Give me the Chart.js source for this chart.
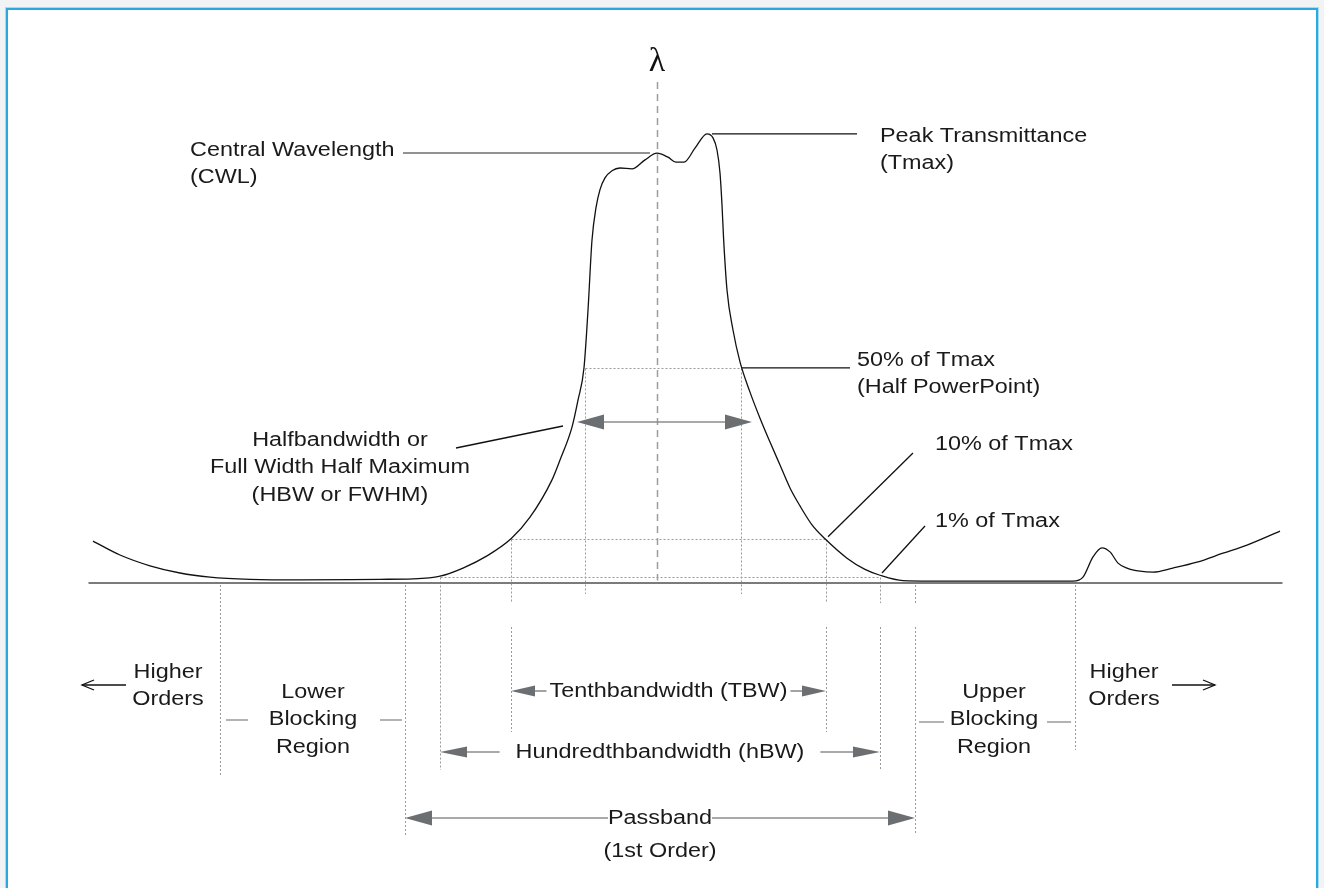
<!DOCTYPE html>
<html lang="en">
<head>
<meta charset="UTF-8">
<title>Bandpass filter terms</title>
<style>
  html, body { margin: 0; padding: 0; background: #f2f3f5; overflow: hidden; }
  .frame {
    position: absolute; left: 6px; top: 8px;
    width: 1312px; height: 900px; box-sizing: border-box;
    border: 2px solid #2aa8e0; background: #fff;
    box-shadow: 0 0 0 1px #a9dbf2;
  }
  canvas { position: absolute; left: 0; top: 0; }
</style>
</head>
<body>
<div class="frame"></div>
<canvas id="filterChart" width="1324" height="888"></canvas>

<script src="https://cdn.jsdelivr.net/npm/chart.js@4.4.1/dist/chart.umd.min.js"></script>
<script>
// transmission curve (x = wavelength position, y = % transmittance)
const wavelength = [93,120,150,180,210,250,300,380,413,440,463,487,511,530,552,560,572,578,584,588,592,596,600,605,612,620,632,645,657,668,676,684,695,707,713,717,720,722,723.5,727,733,740,750,760,770,780,790,800,812,825,847,865,880,903,930,1000,1073,1083,1093,1102,1110,1118,1127,1140,1153,1173,1197,1223,1247,1280];
const transmittance = [9.1,6.0,3.6,2.0,1.1,0.6,0.45,0.6,0.7,1.3,3.1,5.8,9.6,14.4,22.7,27.1,34.4,40.4,47.6,60.4,76,83.2,87.2,89.8,91.4,92,91.8,93.8,95.3,94.4,93.3,93.3,96.4,99.6,98.7,96,90.9,83.8,76.7,64.9,56,48.9,42.2,36.4,31.1,26,20.9,16.9,12.7,9.6,5.3,2.8,1.5,0.3,0.2,0.2,0.2,1.1,5.6,7.6,6.7,4.2,3.1,2.4,2.2,3.1,4.4,6.4,8.2,11.3];

// levels where the widths are taken
const levelHalf = 47.6;
const levelTenth = 9.6;
const levelHundredth = 1.1;

// band edges on the wavelength axis
const cwl = 657;
const fwhmEdges = [585, 741];
const tbwEdges = [511, 826];
const hbwEdges = [440, 880];
const passEdges = [405, 915];
const blockEdges = [220, 1075];
const axisRange = [88, 1282];

const points = wavelength.map((w, i) => ({ x: w, y: transmittance[i] }));

const FONT = '20px "Liberation Sans", Arial, sans-serif';
const STRETCH = 1.17;

function text(ctx, s, x, y, align) {
  ctx.save();
  ctx.translate(x, y);
  ctx.scale(STRETCH, 1);
  ctx.textAlign = align || 'left';
  ctx.textBaseline = 'middle';
  ctx.fillText(s, 0, 0);
  ctx.restore();
}
function textWidth(ctx, s) { return ctx.measureText(s).width * STRETCH; }

function line(ctx, x1, y1, x2, y2) {
  ctx.beginPath(); ctx.moveTo(x1, y1); ctx.lineTo(x2, y2); ctx.stroke();
}

function head(ctx, tip, y, dir, len, half) {
  ctx.beginPath();
  ctx.moveTo(tip, y);
  ctx.lineTo(tip + dir * len, y - half);
  ctx.lineTo(tip + dir * len, y + half);
  ctx.closePath();
  ctx.fill();
}

// double arrow between two tips, optionally with a label in the middle
function dimension(ctx, x1, x2, y, label, gap, len, half) {
  ctx.strokeStyle = '#8c8c8c'; ctx.lineWidth = 1.6; ctx.setLineDash([]);
  const mid = (x1 + x2) / 2;
  if (label) {
    const w = textWidth(ctx, label);
    line(ctx, x1 + len, y, mid - w / 2 - gap, y);
    line(ctx, mid + w / 2 + gap, y, x2 - len, y);
    ctx.fillStyle = '#1a1a1a';
    text(ctx, label, mid, y, 'center');
  } else {
    line(ctx, x1 + len, y, x2 - len, y);
  }
  ctx.fillStyle = '#6c6f71';
  head(ctx, x1, y, 1, len, half);
  head(ctx, x2, y, -1, len, half);
}

const guidePlugin = {
  id: 'filterGuides',
  beforeDatasetsDraw(chart) {
    const { ctx, scales: { x, y } } = chart;
    const px = v => Math.round(x.getPixelForValue(v)) + 0.5;
    const py = v => Math.round(y.getPixelForValue(v)) + 0.5;
    ctx.save();

    // dotted level lines
    ctx.strokeStyle = '#9a9a9a'; ctx.lineWidth = 1; ctx.setLineDash([2, 2]);
    line(ctx, px(fwhmEdges[0]), py(levelHalf), px(fwhmEdges[1]), py(levelHalf));
    line(ctx, px(tbwEdges[0]), py(levelTenth), px(tbwEdges[1]), py(levelTenth));
    line(ctx, px(hbwEdges[0]), py(levelHundredth), px(hbwEdges[1]), py(levelHundredth));

    // dotted drop lines: [edge, top level or null, pixel segments below]
    const base = py(0);
    const drops = [
      [blockEdges[0], null, [[585, 775]]],
      [passEdges[0], null, [[585, 835]]],
      [hbwEdges[0], levelHundredth, [[0, 770]]],
      [tbwEdges[0], levelTenth, [[0, 602], [627, 732]]],
      [fwhmEdges[0], levelHalf, [[0, 594]]],
      [fwhmEdges[1], levelHalf, [[0, 594]]],
      [tbwEdges[1], levelTenth, [[0, 602], [627, 732]]],
      [hbwEdges[1], levelHundredth, [[0, 603], [627, 770]]],
      [passEdges[1], null, [[585, 603], [627, 835]]],
      [blockEdges[1], null, [[585, 750]]]
    ];
    drops.forEach(([edge, lvl, segs]) => {
      segs.forEach(([a, b], i) => {
        const top = (i === 0 && lvl !== null) ? py(lvl) : a;
        line(ctx, px(edge), top, px(edge), b);
      });
    });

    // baseline
    ctx.setLineDash([]);
    ctx.strokeStyle = '#7b7b7b'; ctx.lineWidth = 2;
    line(ctx, px(axisRange[0]), base + 0.5, px(axisRange[1]), base + 0.5);

    // central wavelength dashed line
    ctx.strokeStyle = '#9d9d9d'; ctx.lineWidth = 1.5; ctx.setLineDash([7, 5]);
    line(ctx, px(cwl), 82, px(cwl), base - 2);
    ctx.restore();
  },
  afterDatasetsDraw(chart) {
    const { ctx, scales: { x, y } } = chart;
    const px = v => x.getPixelForValue(v);
    const py = v => y.getPixelForValue(v);
    ctx.save();
    ctx.font = FONT;
    ctx.setLineDash([]);

    // lambda
    ctx.fillStyle = '#111';
    ctx.font = '34px "Liberation Serif", "DejaVu Serif", serif';
    ctx.textAlign = 'center'; ctx.textBaseline = 'middle';
    ctx.fillText('\u03bb', px(cwl), 62);
    ctx.font = FONT;

    // leader lines
    ctx.lineWidth = 1.3;
    ctx.strokeStyle = '#6e6e6e';
    line(ctx, 403, 153, px(cwl) - 7, 153);
    ctx.strokeStyle = '#111';
    line(ctx, px(707) + 5, py(99.6), 857, py(99.6));
    line(ctx, px(fwhmEdges[1]) + 1, py(levelHalf), 850, py(levelHalf));
    line(ctx, 456, 448, 563, 426);
    line(ctx, px(tbwEdges[1]) + 2, py(levelTenth) - 2, 913, 453);
    line(ctx, px(hbwEdges[1]) + 2, py(levelHundredth) - 4, 925, 526);

    // blocking region dashes
    ctx.strokeStyle = '#9a9a9a'; ctx.lineWidth = 1.5;
    line(ctx, 226, 720, 248, 720); line(ctx, 380, 720, 402, 720);
    line(ctx, 919, 722, 944, 722); line(ctx, 1047, 722, 1071, 722);

    // higher orders arrows
    ctx.strokeStyle = '#111'; ctx.lineWidth = 1.3;
    line(ctx, 82, 685, 126, 685);
    ctx.beginPath(); ctx.moveTo(94, 680); ctx.lineTo(82, 685); ctx.lineTo(94, 690); ctx.stroke();
    line(ctx, 1172, 685, 1215, 685);
    ctx.beginPath(); ctx.moveTo(1203, 680); ctx.lineTo(1215, 685); ctx.lineTo(1203, 690); ctx.stroke();

    // text labels
    const labels = [
      [['Central Wavelength', '(CWL)'], 190, 150, 'left'],
      [['Peak Transmittance', '(Tmax)'], 880, 136, 'left'],
      [['50% of Tmax', '(Half PowerPoint)'], 857, 360, 'left'],
      [['Halfbandwidth or', 'Full Width Half Maximum', '(HBW or FWHM)'], 340, 440, 'center'],
      [['10% of Tmax'], 935, 444, 'left'],
      [['1% of Tmax'], 935, 521, 'left'],
      [['Higher', 'Orders'], 168, 672, 'center'],
      [['Lower', 'Blocking', 'Region'], 313, 692, 'center'],
      [['Upper', 'Blocking', 'Region'], 994, 692, 'center'],
      [['Higher', 'Orders'], 1124, 672, 'center'],
      [['(1st Order)'], (px(passEdges[0]) + px(passEdges[1])) / 2, 851, 'center']
    ];
    ctx.fillStyle = '#1a1a1a';
    labels.forEach(([rows, lx, ly, align]) => {
      rows.forEach((r, i) => text(ctx, r, lx, ly + i * 27.5, align));
    });

    // width arrows
    dimension(ctx, px(fwhmEdges[0]) - 8, px(fwhmEdges[1]) + 11, 422, null, 0, 27, 7.5);
    dimension(ctx, px(tbwEdges[0]), px(tbwEdges[1]), 691, 'Tenthbandwidth (TBW)', 3, 24, 5.5);
    dimension(ctx, px(hbwEdges[0]), px(hbwEdges[1]), 752, 'Hundredthbandwidth (hBW)', 16, 27, 5.5);
    dimension(ctx, px(passEdges[0]), px(passEdges[1]), 818, 'Passband', 0, 27, 7.5);

    ctx.restore();
  }
};

new Chart(document.getElementById('filterChart'), {
  type: 'line',
  data: {
    datasets: [{
      data: points,
      borderColor: '#111',
      borderWidth: 1.3,
      pointRadius: 0,
      fill: false,
      cubicInterpolationMode: 'monotone'
    }]
  },
  options: {
    responsive: false,
    animation: false,
    layout: { padding: 0 },
    plugins: { legend: { display: false }, tooltip: { enabled: false } },
    scales: {
      x: { type: 'linear', min: 0, max: 1324, display: false },
      y: { min: -68, max: 129.333, display: false }
    }
  },
  plugins: [guidePlugin]
});
</script>
</body>
</html>
